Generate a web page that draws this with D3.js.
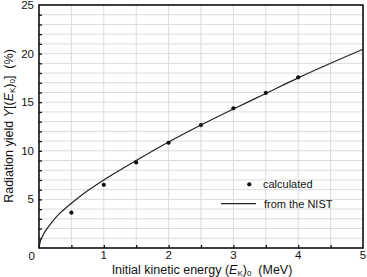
<!DOCTYPE html>
<html>
<head>
<meta charset="utf-8">
<script src="https://cdn.jsdelivr.net/npm/d3@7"></script>
<style>
  body { margin: 0; background: #fff; }
  svg text { font-family: "Liberation Sans", Arial, sans-serif; fill: #111; }
</style>
</head>
<body>
<svg id="chart" width="367" height="277"></svg>
<script>
// calculated points
const calc_energy = [0.5, 1, 1.5, 2, 2.5, 3, 3.5, 4]
const calc_yield = [3.63, 6.5, 8.8, 10.83, 12.65, 14.37, 15.95, 17.56]
// NIST curve
const nist_energy = [0, 0.02, 0.05, 0.1, 0.2, 0.3, 0.5, 0.75, 1, 1.5, 2, 2.5, 3, 3.5, 4, 4.5, 5]
const nist_yield = [0, 0.67, 1.16, 1.76, 2.66, 3.43, 4.6, 5.88, 7.0, 9.0, 10.9, 12.65, 14.3, 15.9, 17.5, 19.0, 20.45]
const x_ticks = [1, 2, 3, 4, 5]
const y_ticks = [5, 10, 15, 20, 25]

const plot = { left: 39, right: 363, top: 5, bottom: 248 }

const svg = d3.select('#chart')

const xScale = d3.scaleLinear().domain([0, 5]).range([plot.left, plot.right])
const yScale = d3.scaleLinear().domain([0, 25]).range([plot.bottom, plot.top])

// 网格
const grid = svg.append('g').attr('class', 'grid')
grid.selectAll('.vgrid')
    .data(d3.range(0.5, 5, 0.5))
    .join('line')
    .attr('x1', d => xScale(d)).attr('x2', d => xScale(d))
    .attr('y1', plot.top).attr('y2', plot.bottom)
    .attr('stroke', '#dcdcdc').attr('stroke-width', 1)
grid.selectAll('.hgrid')
    .data(d3.range(1, 25, 1))
    .join('line')
    .attr('y1', d => yScale(d)).attr('y2', d => yScale(d))
    .attr('x1', plot.left).attr('x2', plot.right)
    .attr('stroke', '#dcdcdc').attr('stroke-width', 1)

// inward ticks
const xAxis = d3.axisBottom(xScale).tickValues(d3.range(0.5, 5, 0.5)).tickSize(-3).tickFormat('')
svg.append('g').attr('transform', `translate(0,${plot.bottom})`).call(xAxis)
   .call(g => g.select('.domain').remove())
   .call(g => g.selectAll('line').attr('stroke', '#111').attr('stroke-width', 1.3))
const yAxis = d3.axisLeft(yScale).tickValues(d3.range(1, 25, 1)).tickSize(-3).tickFormat('')
svg.append('g').attr('transform', `translate(${plot.left},0)`).call(yAxis)
   .call(g => g.select('.domain').remove())
   .call(g => g.selectAll('line').attr('stroke', '#111').attr('stroke-width', 1.3))

// tick labels
svg.append('g').selectAll('text')
    .data(x_ticks)
    .join('text')
    .attr('x', d => xScale(d))
    .attr('y', plot.bottom + 11)
    .attr('text-anchor', 'middle')
    .attr('font-size', 11.5)
    .text(d => d)
svg.append('g').selectAll('text')
    .data(y_ticks)
    .join('text')
    .attr('x', plot.left - 5)
    .attr('y', d => yScale(d) + 4)
    .attr('text-anchor', 'end')
    .attr('font-size', 11.5)
    .text(d => d)
svg.append('text')
    .attr('x', plot.left - 4).attr('y', plot.bottom + 12)
    .attr('text-anchor', 'end').attr('font-size', 11.5)
    .text('0')

// NIST curve
const line = d3.line()
    .x((d, i) => xScale(nist_energy[i]))
    .y(d => yScale(d))
    .curve(d3.curveCatmullRom.alpha(0.5))
svg.append('path')
    .attr('d', line(nist_yield))
    .attr('fill', 'none')
    .attr('stroke', '#222')
    .attr('stroke-width', 1.2)

// calculated points
svg.append('g').selectAll('circle')
    .data(calc_yield)
    .join('circle')
    .attr('cx', (d, i) => xScale(calc_energy[i]))
    .attr('cy', d => yScale(d))
    .attr('r', 2.1)
    .attr('fill', '#111')

// frame
svg.append('rect')
    .attr('x', plot.left).attr('y', plot.top)
    .attr('width', plot.right - plot.left).attr('height', plot.bottom - plot.top)
    .attr('fill', 'none').attr('stroke', '#111').attr('stroke-width', 1.6)

// legend
const legend = svg.append('g').attr('font-size', 11)
legend.append('circle').attr('cx', 249.3).attr('cy', 184.3).attr('r', 2.1).attr('fill', '#111')
legend.append('text').attr('x', 263).attr('y', 188).text('calculated')
legend.append('line').attr('x1', 221).attr('x2', 256).attr('y1', 203.7).attr('y2', 203.7)
      .attr('stroke', '#222').attr('stroke-width', 1.2)
legend.append('text').attr('x', 264).attr('y', 207.5).text('from the NIST')

// x axis title
const xt = svg.append('text')
    .attr('x', 202).attr('y', 274)
    .attr('text-anchor', 'middle')
    .attr('font-size', 12.5)
xt.append('tspan').text('Initial kinetic energy (')
xt.append('tspan').attr('font-style', 'italic').text('E')
xt.append('tspan').attr('font-size', 8).attr('dy', 2).text('K')
xt.append('tspan').attr('dy', -2).text(')')
xt.append('tspan').attr('font-size', 8).attr('dy', 2).text('0')
xt.append('tspan').attr('dy', -2).text('\u00a0 (MeV)')

// y axis title
const yt = svg.append('text')
    .attr('transform', `translate(13,126) rotate(-90)`)
    .attr('text-anchor', 'middle')
    .attr('font-size', 12.5)
yt.append('tspan').text('Radiation yield ')
yt.append('tspan').attr('font-style', 'italic').text('Y')
yt.append('tspan').text('[(')
yt.append('tspan').attr('font-style', 'italic').text('E')
yt.append('tspan').attr('font-size', 8).attr('dy', 2).text('K')
yt.append('tspan').attr('dy', -2).text(')')
yt.append('tspan').attr('font-size', 8).attr('dy', 2).text('0')
yt.append('tspan').attr('dy', -2).text(']\u00a0 (%)')
</script>
</body>
</html>
